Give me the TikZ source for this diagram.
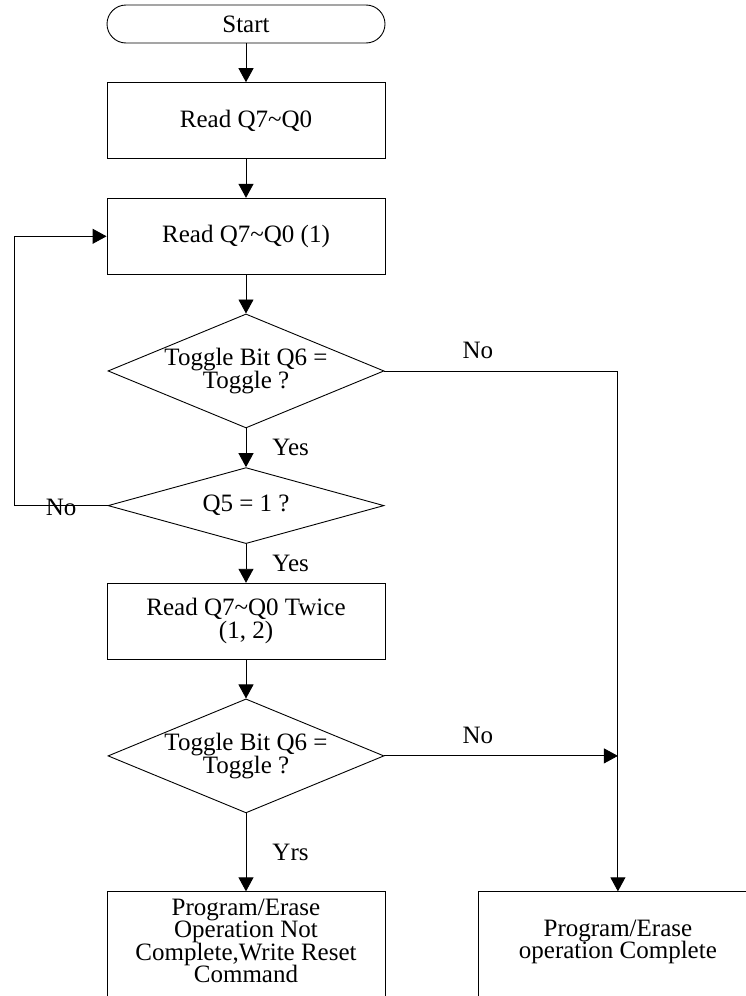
\documentclass[tikz,border=0pt]{standalone}
\usepackage{fontspec}
\setmainfont{Liberation Serif}
\usepackage{tikz}
\usetikzlibrary{arrows.meta,positioning,shapes.geometric}
\newcommand\flowfont{\fontsize{25pt}{22.5pt}\selectfont\lineskiplimit=-30pt}
% zero-width strut that lifts the text of the open end boxes
\newcommand\lowpad[1]{\rule[-#1]{0pt}{#1}}
\tikzset{
  terminal/.style={rectangle,rounded corners=19pt,draw=black,line width=0.9pt,align=center,minimum width=278pt,minimum height=38pt,inner sep=0pt,font=\flowfont},
  process/.style={rectangle,draw=black,line width=0.9pt,align=center,minimum width=278pt,minimum height=76pt,inner sep=0pt,font=\flowfont},
  decision/.style={diamond,draw=black,line width=0.9pt,align=center,aspect=2.42,minimum width=276pt,minimum height=114pt,inner sep=0pt,font=\flowfont},
  tag/.style={inner sep=0pt,font=\flowfont},
  edge/.style={-{Triangle[length=14pt,width=15pt]},line width=0.9pt,draw=black}
}
\begin{document}
\begin{tikzpicture}[node distance=38.75pt]
\useasboundingbox (0pt,0pt) rectangle (745pt,-996pt);
\node[terminal] (start) at (246pt,-24pt) {Start};
\node[process,below=of start] (read0) {Read Q7\textasciitilde Q0};
\node[process,below=of read0] (read1) {Read Q7\textasciitilde Q0 (1)};
\node[decision,below=of read1] (dec1) {Toggle Bit Q6 =\\Toggle ?};
\node[decision,minimum height=76pt,below=of dec1] (dec2) {Q5 = 1 ?};
\node[process,below=of dec2] (read2) {Read Q7\textasciitilde Q0 Twice\\(1, 2)\lowpad{6pt}};
\node[decision,below=of read2] (dec3) {Toggle Bit Q6 =\\Toggle ?};
\node[process,minimum height=112pt,below=78pt of dec3] (done0) {Program/Erase\\Operation Not\\Complete,Write Reset\\Command\lowpad{14pt}};
\node[process,minimum height=112pt,right=93pt of done0] (done1) {Program/Erase\\operation Complete\lowpad{17pt}};
\coordinate (join) at (done1.north |- dec3.east);
\draw[edge] (start) -- (read0);
\draw[edge] (read0) -- (read1);
\draw[edge] (read1) -- (dec1);
\draw[edge] (dec1) -- node[tag,right=26pt] {Yes} (dec2);
\draw[edge] (dec2) -- node[tag,right=26pt] {Yes} (read2);
\draw[edge] (read2) -- (dec3);
\draw[edge] (dec3) -- node[tag,right=26pt] {Yrs} (done0);
\draw[edge] (dec2.west) -- node[tag,below=-7pt] {No} ++(-93pt,0) |- (read1.west);
\draw[edge] (dec1.east) -| node[tag,pos=0.2,above=12pt] {No} (done1.north);
\draw[edge] (dec3.east) -- node[tag,pos=0.4,above=12pt] {No} (join);
\end{tikzpicture}
\end{document}
